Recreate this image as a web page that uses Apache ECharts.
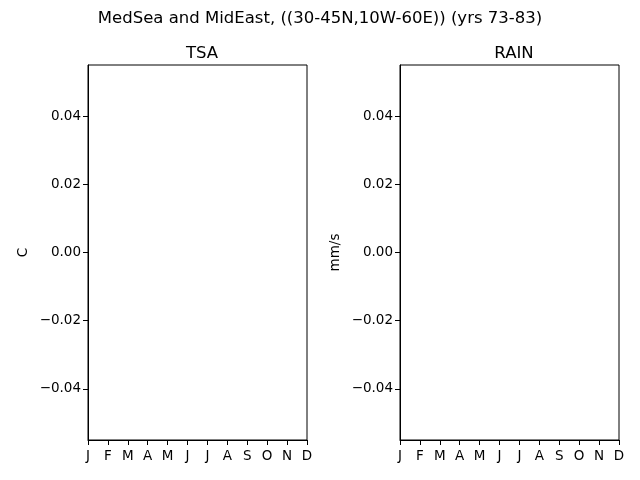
<!DOCTYPE html>
<html>
<head>
<meta charset="utf-8">
<script src="https://cdn.jsdelivr.net/npm/echarts@6/dist/echarts.min.js"></script>
<style>
  html, body { margin: 0; padding: 0; background: #fff; }
  #chart { width: 640px; height: 480px; }
</style>
</head>
<body>
<div id="chart"></div>
<script>
// months on x, both panels are empty in the source figure
const months = ['J', 'F', 'M', 'A', 'M', 'J', 'J', 'A', 'S', 'O', 'N', 'D'];
const yTicks = [-0.04, -0.02, 0, 0.02, 0.04];
const tsaValues = [];
const rainValues = [];
const panelTitles = ['TSA', 'RAIN'];
const panelUnits = ['C', 'mm/s'];

const font = 'DejaVu Sans';
const chart = echarts.init(document.getElementById('chart'));

// matplotlib style minus sign
function fmtTick(v) {
  const s = Math.abs(v).toFixed(2);
  return v < 0 ? '\u2212' + s : s;
}

const grids = [
  { left: 88, top: 65, width: 219, height: 375 },
  { left: 400, top: 65, width: 219, height: 375 }
];

function xAxisFor(i) {
  return {
    type: 'category',
    gridIndex: i,
    data: months,
    boundaryGap: false,
    axisLine: { onZero: false, lineStyle: { color: '#000', width: 1 } },
    axisTick: { show: true, alignWithLabel: true, length: 5, lineStyle: { color: '#000' } },
    axisLabel: { color: '#000', fontFamily: font, fontSize: 13.5, margin: 9, interval: 0 },
    splitLine: { show: false }
  };
}

function yAxisFor(i) {
  return {
    type: 'value',
    gridIndex: i,
    min: -0.055,
    max: 0.055,
    name: panelUnits[i],
    nameLocation: 'middle',
    nameGap: 58,
    nameTextStyle: { color: '#000', fontFamily: font, fontSize: 13.5 },
    axisLine: { show: true, onZero: false, lineStyle: { color: '#000', width: 1 } },
    axisTick: { show: true, length: 5, customValues: yTicks, lineStyle: { color: '#000' } },
    axisLabel: { color: '#000', fontFamily: font, fontSize: 13.5, margin: 7, customValues: yTicks, formatter: fmtTick },
    splitLine: { show: false }
  };
}

const option = {
  backgroundColor: '#fff',
  animation: false,
  title: [
    { text: 'MedSea and MidEast, ((30-45N,10W-60E)) (yrs 73-83)', left: 'center', top: 5,
      textStyle: { fontFamily: font, fontSize: 16.5, fontWeight: 'normal', color: '#000' } },
    { text: panelTitles[0], left: 197, top: 40, textAlign: 'center',
      textStyle: { fontFamily: font, fontSize: 16.5, fontWeight: 'normal', color: '#000' } },
    { text: panelTitles[1], left: 509, top: 40, textAlign: 'center',
      textStyle: { fontFamily: font, fontSize: 16.5, fontWeight: 'normal', color: '#000' } }
  ],
  grid: grids.map(g => Object.assign({ show: true, borderColor: '#000', borderWidth: 1, backgroundColor: 'transparent' }, g)),
  xAxis: [xAxisFor(0), xAxisFor(1)],
  yAxis: [yAxisFor(0), yAxisFor(1)],
  series: [
    { name: 'TSA', type: 'line', xAxisIndex: 0, yAxisIndex: 0, data: tsaValues },
    { name: 'RAIN', type: 'line', xAxisIndex: 1, yAxisIndex: 1, data: rainValues }
  ]
};

chart.setOption(option);
</script>
</body>
</html>
